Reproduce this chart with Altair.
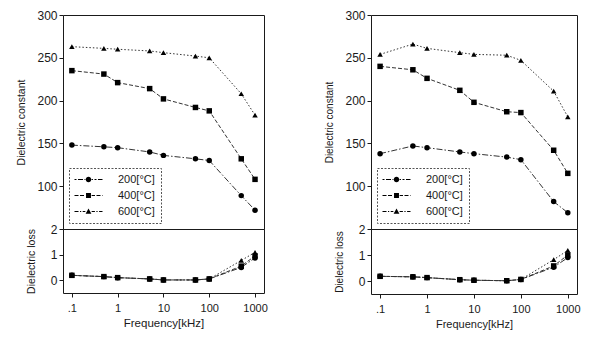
import math
import altair as alt
import pandas as pd

freqs = [0.1, 0.5, 1, 5, 10, 50, 100, 500, 1000]
series_names = ["200[°C]", "400[°C]", "600[°C]"]

left_const_200 = [148, 146, 145, 140, 136, 132, 130, 89, 72]
left_const_400 = [235, 231, 221, 214, 202, 192, 188, 132, 108]
left_const_600 = [263, 261, 260, 258, 256, 252, 250, 208, 183]
left_loss_200 = [0.19, 0.14, 0.10, 0.05, 0.01, 0.01, 0.05, 0.50, 0.87]
left_loss_400 = [0.19, 0.14, 0.10, 0.05, 0.01, 0.01, 0.05, 0.55, 0.95]
left_loss_600 = [0.19, 0.14, 0.10, 0.05, 0.01, 0.01, 0.05, 0.77, 1.09]

right_const_200 = [138, 147, 145, 140, 138, 134, 131, 82, 69]
right_const_400 = [240, 236, 226, 212, 198, 187, 186, 142, 115]
right_const_600 = [254, 266, 261, 256, 254, 253, 247, 211, 181]
right_loss_200 = [0.18, 0.16, 0.13, 0.05, 0.03, 0.01, 0.06, 0.53, 0.90]
right_loss_400 = [0.18, 0.16, 0.13, 0.05, 0.03, 0.01, 0.06, 0.58, 1.00]
right_loss_600 = [0.18, 0.16, 0.13, 0.05, 0.03, 0.01, 0.06, 0.82, 1.18]

x_ticks = [0.1, 1, 10, 100, 1000]
y_ticks_const = [100, 150, 200, 250, 300]
y_ticks_loss = [0, 1, 2]

FONT = "Liberation Sans"
INK = "#1a1a1a"


def build_df(consts, losses):
    rows = []
    # draw order: 600 first, 200 last (circles on top)
    for name, cv, lv in reversed(list(zip(series_names, consts, losses))):
        for f, c, l in zip(freqs, cv, lv):
            rows.append({"series": name, "freq": f, "const": c, "loss": l})
    return pd.DataFrame(rows)


# ---- legend symbol paths: dashed line + marker (unit coords) ----
SYM_SIZE = 30
K = math.sqrt(SYM_SIZE) / 2.0


def dashed(pattern_px, half_len_px=14, gap=1.15, thick_px=0.5):
    L = half_len_px / K
    t = thick_px / K
    pat = [p / K for p in pattern_px]
    out = []
    x = -L
    i = 0
    while x < L:
        seg = pat[i % len(pat)]
        if i % 2 == 0:
            x0, x1 = x, min(x + seg, L)
            for a, b in ((x0, min(x1, -gap)), (max(x0, gap), x1)):
                if b > a:
                    out.append(f"M{a:.2f},{-t:.2f}H{b:.2f}V{t:.2f}H{a:.2f}Z")
        x += seg
        i += 1
    return "".join(out)


circle_p = "M1,0A1,1 0 1,1 -1,0A1,1 0 1,1 1,0Z"
square_p = "M-0.9,-0.9H0.9V0.9H-0.9Z"
tri_p = "M0,-1.1L1.05,0.8H-1.05Z"
legend_paths = [
    dashed([2, 1.5, 5, 1.5]) + circle_p,
    dashed([4, 1.5]) + square_p,
    dashed([4, 1.5, 1.2, 1.5]) + tri_p,
]
dash_range = [[6, 2, 1.5, 2], [4, 2], [1.5, 2]]
shape_range = ["circle", "square", "triangle-up"]


def panel(df, w, h_up, h_low, xtitle_size, ytitle_size):
    xscale = alt.Scale(type="log", domain=[0.064, 1570], nice=False)
    base = alt.Chart(df)
    dash = alt.StrokeDash("series:N", scale=alt.Scale(domain=series_names, range=dash_range), legend=None)
    shp = alt.Shape("series:N", scale=alt.Scale(domain=series_names, range=shape_range), legend=None)

    y_up = alt.Y("const:Q", scale=alt.Scale(domain=[50, 300], nice=False),
                 axis=alt.Axis(values=y_ticks_const, title="Dielectric constant", labelFontSize=12,
                               titleFontSize=ytitle_size, titlePadding=10))
    x_up = alt.X("freq:Q", scale=xscale, axis=None)

    up_lines = base.mark_line(strokeWidth=1, color="#333").encode(x=x_up, y=y_up, strokeDash=dash, detail="series:N")
    up_pts = base.mark_point(filled=True, size=SYM_SIZE, color="black", opacity=1).encode(x=x_up, y=y_up, shape=shp)
    up_leg = base.transform_filter("datum.freq < 0").mark_point(filled=True, color="black", opacity=1).encode(
        x=x_up, y=y_up,
        shape=alt.Shape("series:N", scale=alt.Scale(domain=series_names, range=legend_paths),
                        legend=alt.Legend(title=None, orient="bottom-left", offset=6,
                                          symbolSize=SYM_SIZE, symbolFillColor="black",
                                          symbolStrokeWidth=0, symbolOpacity=1,
                                          symbolOffset=8, labelOffset=24)))
    upper = alt.layer(up_lines, up_pts, up_leg).resolve_scale(shape="independent").properties(width=w, height=h_up)

    y_low = alt.Y("loss:Q", scale=alt.Scale(domain=[-0.5, 2], nice=False),
                  axis=alt.Axis(values=y_ticks_loss, title="Dielectric loss", labelFontSize=12,
                                titleFontSize=ytitle_size, titlePadding=14))
    x_low = alt.X("freq:Q", scale=xscale,
                  axis=alt.Axis(values=x_ticks, title="Frequency[kHz]", titleFontSize=xtitle_size,
                                labelExpr="datum.value < 1 ? '.1' : format(datum.value, 'd')",
                                titlePadding=4, labelPadding=5))
    low_lines = base.mark_line(strokeWidth=1, color="#333").encode(x=x_low, y=y_low, strokeDash=dash, detail="series:N")
    low_pts = base.mark_point(filled=True, size=SYM_SIZE, color="black", opacity=1).encode(x=x_low, y=y_low, shape=shp)
    lower = alt.layer(low_lines, low_pts).properties(width=w, height=h_low)

    return alt.vconcat(upper, lower, spacing=0, bounds="flush").resolve_scale(
        shape="independent", strokeDash="independent")


left = panel(build_df([left_const_200, left_const_400, left_const_600],
                      [left_loss_200, left_loss_400, left_loss_600]), 201, 214, 64, 11.5, 10.5)
right = panel(build_df([right_const_200, right_const_400, right_const_600],
                       [right_loss_200, right_loss_400, right_loss_600]), 206, 214, 65, 11, 10)

chart = alt.hconcat(left, right, spacing=56).resolve_scale(shape="independent", strokeDash="independent").properties(
    padding={"left": 8, "top": 0, "right": 0, "bottom": 0}
).configure(font=FONT).configure_view(stroke=INK, strokeWidth=1).configure_axis(
    grid=False, domain=False, labelFontSize=11, titleFontWeight="normal", labelColor=INK, titleColor=INK,
    tickColor=INK, tickSize=4, labelFont=FONT, titleFont=FONT
).configure_legend(
    strokeColor="#555", strokeDash=[2, 1.5], padding=6, fillColor="white", labelFontSize=11,
    labelColor=INK, rowPadding=4
)

chart.save("out.html", embed_options={"renderer": "svg", "actions": False})
